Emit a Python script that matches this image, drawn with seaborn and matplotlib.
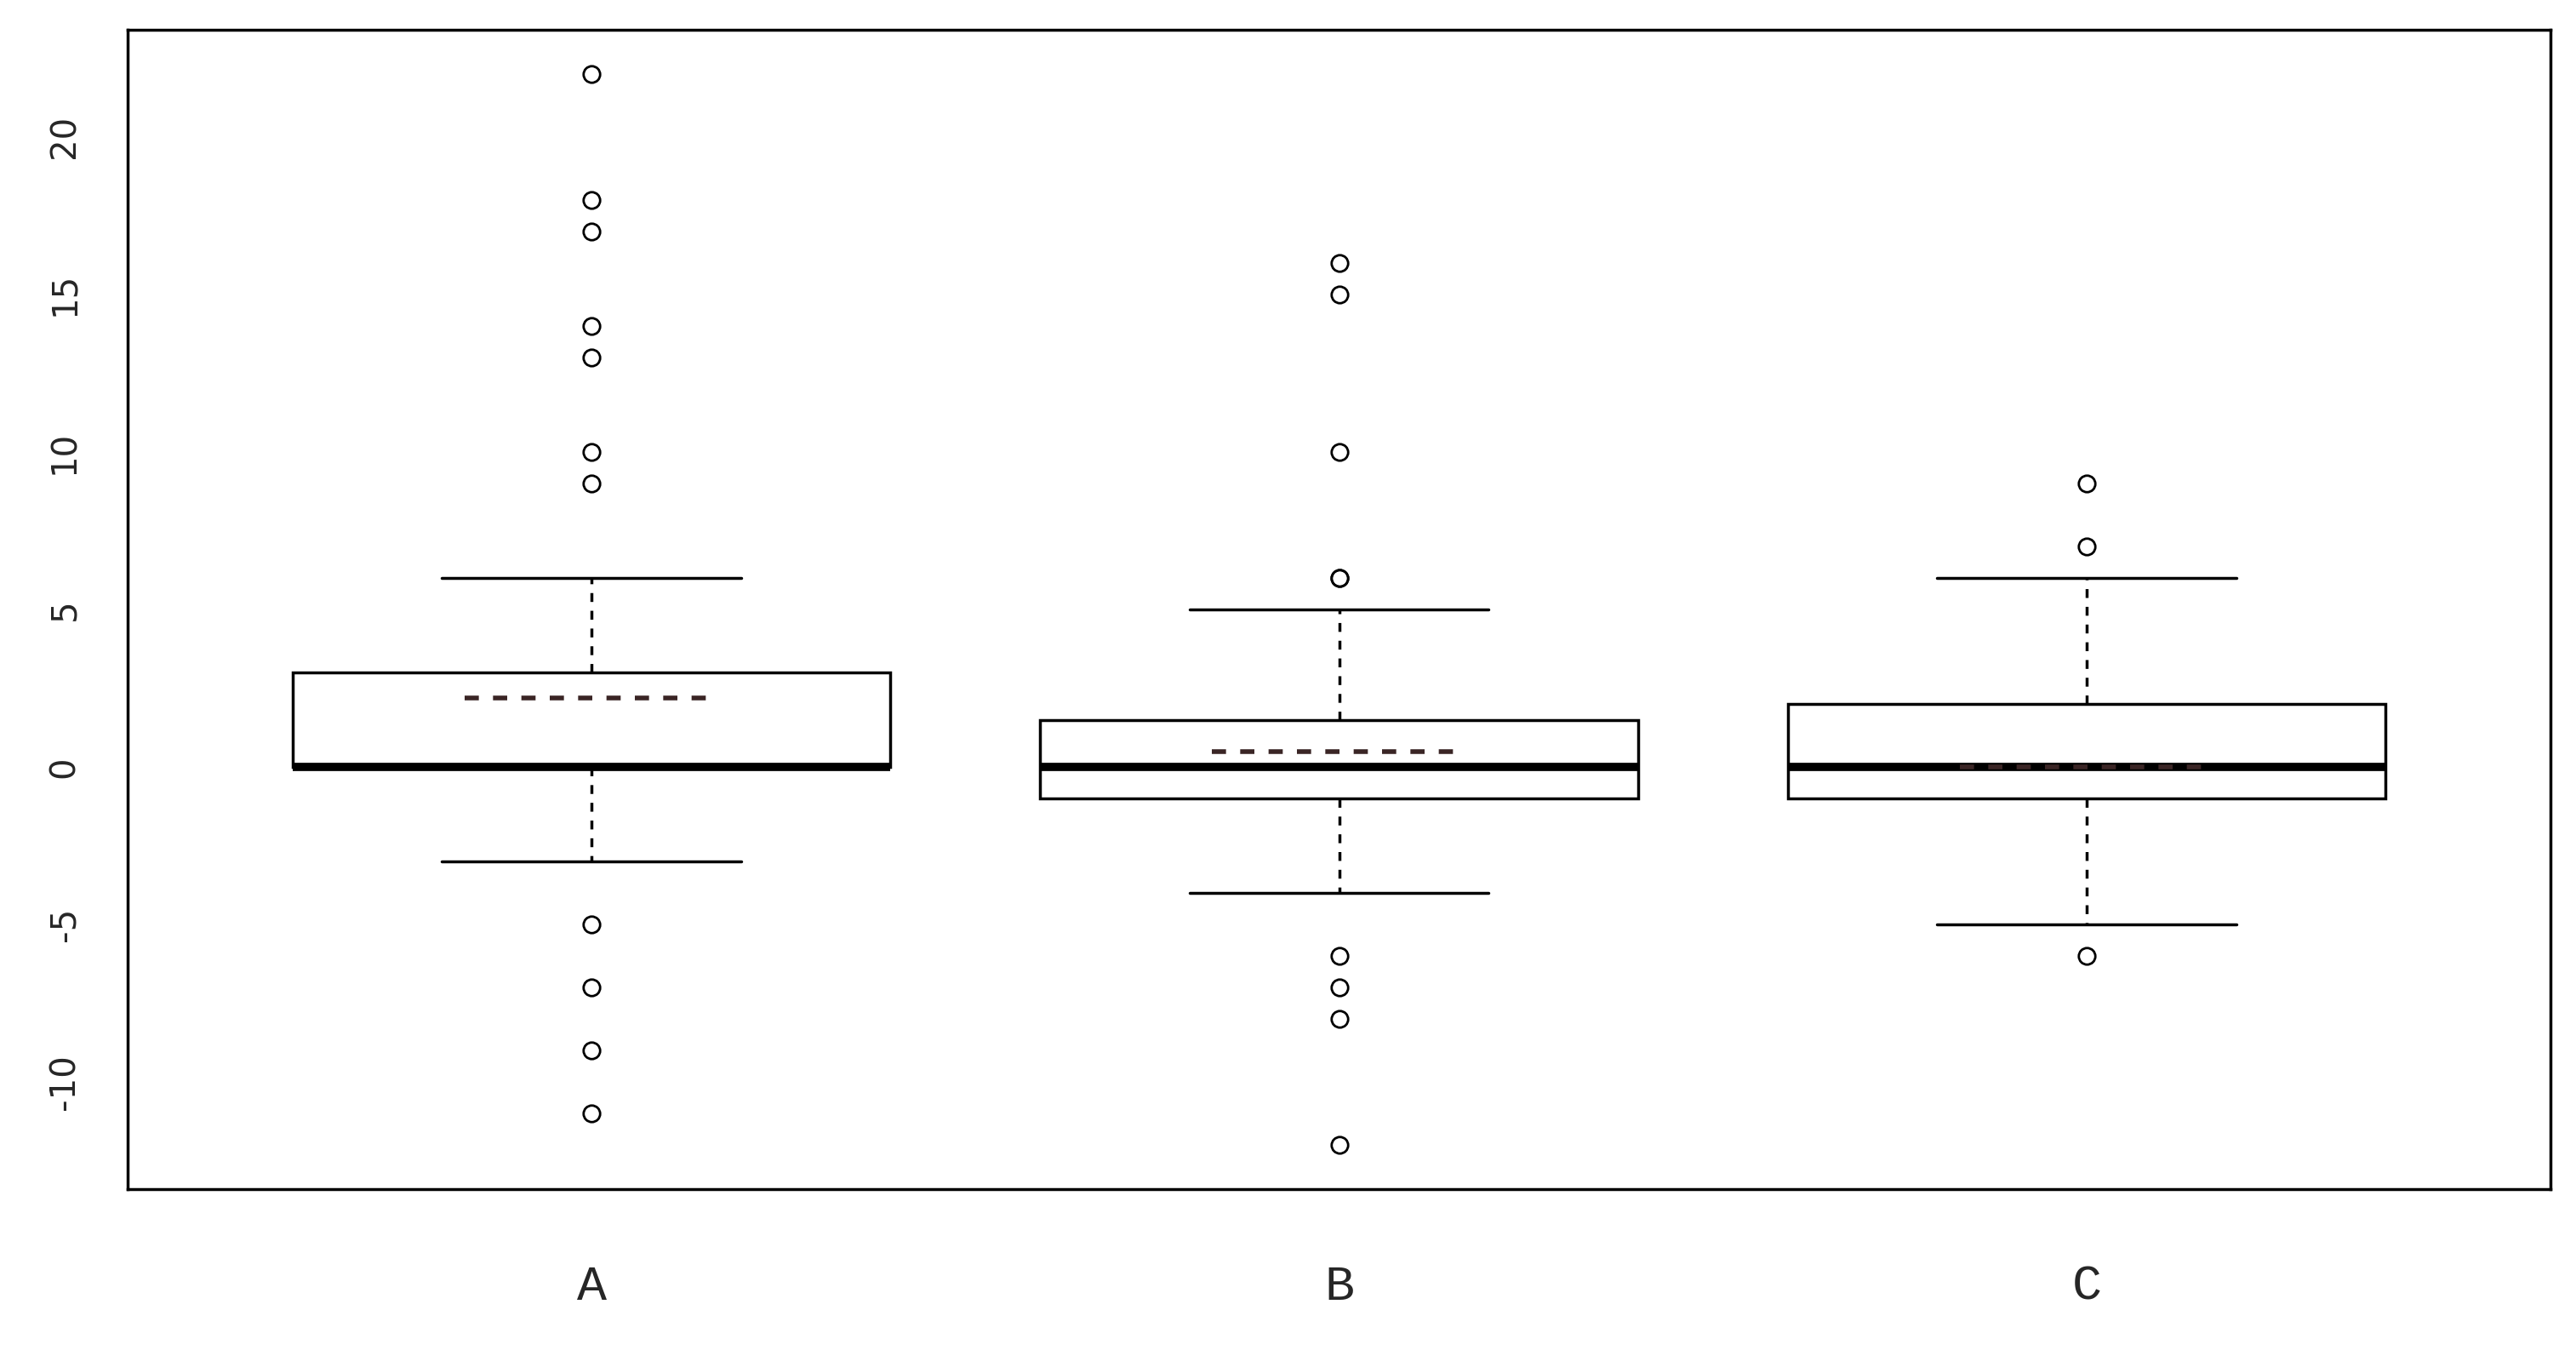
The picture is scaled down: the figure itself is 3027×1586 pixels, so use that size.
import numpy as np
import pandas as pd
import matplotlib
matplotlib.use("Agg")
import matplotlib.pyplot as plt
import seaborn as sns

groups = ["A", "B", "C"]
values_A = [-11, -9, -7, -5, -3, -2, -1] + [0]*13 + [1, 3, 3, 3, 3, 3, 3, 3, 5, 6] + [9, 10, 13, 14, 17, 18, 22]
values_B = [-12, -8, -7, -6, -4, -3, -2] + [-1]*6 + [0]*10 + [1, 1, 1] + [1.5]*6 + [2, 3, 4, 5, 6, 6, 10, 15, 16]
values_C = [-6, -5, -4, -3, -2] + [-1]*6 + [0]*11 + [1, 1, 1, 1] + [2]*7 + [3, 3, 4, 5, 5, 6, 7, 9]
means = [2.2, 0.5, 0.0]
whis_per_group = [1.5, 1.5, 1.4]
yticks = [-10, -5, 0, 5, 10, 15, 20]

df = pd.DataFrame({
    "group": ["A"]*len(values_A) + ["B"]*len(values_B) + ["C"]*len(values_C),
    "value": values_A + values_B + values_C,
})

sns.set_style("white")
fig = plt.figure(figsize=(30.27, 15.86), dpi=100)
ax = fig.add_axes([0.0497, 0.119, 0.9403, 0.859])

for g, w in zip(groups, whis_per_group):
    sns.boxplot(data=df[df.group == g], x="group", y="value", order=groups, ax=ax,
                whis=w, width=0.8, color="white", linecolor="black", linewidth=2.5,
                medianprops=dict(linewidth=7, color="black"),
                whiskerprops=dict(linestyle=(0, (3, 3)), linewidth=2.5),
                capprops=dict(linewidth=2.5),
                capwidths=0.4,
                flierprops=dict(marker="o", markersize=14, markerfacecolor="none",
                                markeredgecolor="black", markeredgewidth=2))

for i, m in enumerate(means):
    ax.hlines(m, i - 0.17, i + 0.17, colors="#3a2525", linestyles=(0, (3, 3)), linewidth=4, zorder=5)

ax.set_xlim(-0.62, 2.62)
ax.set_ylim(-13.4, 23.4)
ax.set_yticks(yticks)
ax.set_yticklabels([str(t) for t in yticks], rotation=90, va="center", fontsize=29)
ax.set_xticks(range(3))
ax.set_xticklabels(groups, fontsize=42, family="Liberation Mono")
ax.tick_params(axis="both", length=25, width=2.5, direction="out", color="black")
ax.tick_params(axis="x", pad=38)
ax.tick_params(axis="y", pad=14)
ax.set_xlabel("")
ax.set_ylabel("")
for s in ax.spines.values():
    s.set_visible(True)
    s.set_color("black")
    s.set_linewidth(2.5)

fig.savefig("out.png", dpi=100)
